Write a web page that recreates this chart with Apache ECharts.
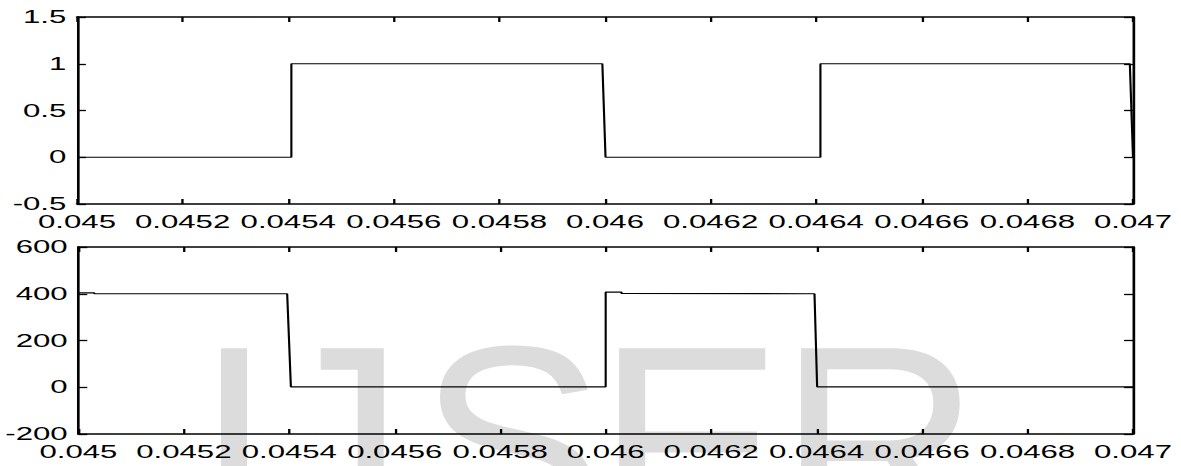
<!DOCTYPE html>
<html>
<head>
<meta charset="utf-8">
<script src="https://cdn.jsdelivr.net/npm/echarts@6/dist/echarts.min.js"></script>
<style>
  html, body { margin: 0; padding: 0; background: #fff; width: 1181px; height: 466px; overflow: hidden; }
  #wm { position: absolute; left: 0; top: 0; width: 1181px; height: 466px; overflow: hidden; z-index: 0; }
  #wm span { position: absolute; font-family: "Liberation Sans", Arial, sans-serif; color: #dcdcdc; white-space: pre; }
  #chart { position: absolute; left: 0; top: 0; height: 466px; transform-origin: 0 0; z-index: 1; }
</style>
</head>
<body>
<div id="wm"></div>
<div id="chart"></div>
<script>
// Gate signal (upper plot)
const gateTime = [0.045, 0.045406, 0.045406, 0.045995, 0.046001, 0.046408, 0.046408, 0.046994, 0.047];
const gateValue = [0, 0, 1, 1, 0, 0, 1, 1, 0];

// Switch voltage (lower plot)
const voltTime = [0.045, 0.04503, 0.04503, 0.045396, 0.045403, 0.046, 0.046, 0.04603, 0.04603, 0.046396, 0.046401, 0.047];
const voltValue = [404, 404, 400, 400, 2, 2, 407, 407, 401, 400, 2, 2];

// Axis ticks
const timeTicks = ['0.045', '0.0452', '0.0454', '0.0456', '0.0458', '0.046', '0.0462', '0.0464', '0.0466', '0.0468', '0.047'];
const gateTicks = ['-0.5', '0', '0.5', '1', '1.5'];
const voltTicks = ['-200', '0', '200', '400', '600'];

// Watermark letters: left edge of each glyph (J by its stem's right edge)
const wmLetters = ['I', 'J', 'S', 'E', 'R'];
const wmEdge = [217, 387, 427, 618, 800];
const wmAnchorRight = [false, true, false, false, false];
const wmSize = 280;
const wmCapTop = 344;

(function drawWatermark() {
  const wm = document.getElementById('wm');
  const ctx = document.createElement('canvas').getContext('2d');
  ctx.font = wmSize + 'px "Liberation Sans", Arial, sans-serif';
  wmLetters.forEach((ch, i) => {
    const m = ctx.measureText(ch);
    const x = wmAnchorRight[i] ? wmEdge[i] - m.actualBoundingBoxRight : wmEdge[i] + m.actualBoundingBoxLeft;
    const asc = m.fontBoundingBoxAscent, desc = m.fontBoundingBoxDescent;
    const lh = wmSize;
    const baselineOffset = (lh - (asc + desc)) / 2 + asc;
    const capTop = baselineOffset - m.actualBoundingBoxAscent;
    const sp = document.createElement('span');
    sp.textContent = ch;
    sp.style.fontSize = wmSize + 'px';
    sp.style.lineHeight = lh + 'px';
    sp.style.left = x + 'px';
    sp.style.top = (wmCapTop - capTop) + 'px';
    wm.appendChild(sp);
  });
})();

// The figure is drawn narrow and stretched horizontally
const SX = 1.78;
const W = 1181 / SX;
const el = document.getElementById('chart');
el.style.width = W + 'px';
el.style.transform = 'scaleX(' + SX + ')';

const plotLeft = 77 / SX;
const plotWidth = 1056 / SX;
const font = '"Liberation Sans", Arial, Helvetica, sans-serif';

const pair = (xs, ys) => xs.map((x, i) => [x, ys[i]]);

function xAxes(gridIndex) {
  const base = {
    type: 'value', gridIndex, min: 0.045, max: 0.047, interval: 0.0002,
    axisLine: { show: true, onZero: false, lineStyle: { color: '#000', width: 1.5 } },
    axisTick: { show: true, inside: true, length: 5, lineStyle: { color: '#000', width: 1.3 } },
    splitLine: { show: false }
  };
  return [
    Object.assign({}, base, {
      position: 'bottom',
      axisLabel: {
        show: true, color: '#000', fontSize: 17.5, fontFamily: font, margin: 9,
        showMinLabel: true, showMaxLabel: true, hideOverlap: false,
        formatter: v => timeTicks[Math.round((v - 0.045) / 0.0002)]
      }
    }),
    Object.assign({}, base, { position: 'top', axisLabel: { show: false } })
  ];
}

function yAxes(gridIndex, min, max, interval, ticks) {
  const base = {
    type: 'value', gridIndex, min, max, interval,
    axisLine: { show: true, onZero: false, lineStyle: { color: '#000', width: 1.5 } },
    axisTick: { show: true, inside: true, length: 5, lineStyle: { color: '#000', width: 1.3 } },
    splitLine: { show: false }
  };
  return [
    Object.assign({}, base, {
      position: 'left',
      axisLabel: {
        show: true, color: '#000', fontSize: 17.5, fontFamily: font, margin: 6,
        showMinLabel: true, showMaxLabel: true,
        formatter: v => ticks[Math.round((v - min) / interval)]
      }
    }),
    Object.assign({}, base, { position: 'right', axisLabel: { show: false } })
  ];
}

const chart = echarts.init(el, null, { renderer: 'svg', width: W, height: 466 });
chart.setOption({
  animation: false,
  backgroundColor: 'transparent',
  grid: [
    { left: plotLeft, width: plotWidth, top: 17, height: 187 },
    { left: plotLeft, width: plotWidth, top: 247, height: 187 }
  ],
  xAxis: [...xAxes(0), ...xAxes(1)],
  yAxis: [...yAxes(0, -0.5, 1.5, 0.5, gateTicks), ...yAxes(1, -200, 600, 200, voltTicks)],
  series: [
    {
      type: 'line', xAxisIndex: 0, yAxisIndex: 0, showSymbol: false, symbol: 'none',
      lineStyle: { color: '#000', width: 1.2 },
      data: pair(gateTime, gateValue)
    },
    {
      type: 'line', xAxisIndex: 2, yAxisIndex: 2, showSymbol: false, symbol: 'none',
      lineStyle: { color: '#000', width: 1.2 },
      data: pair(voltTime, voltValue)
    }
  ]
});
</script>
</body>
</html>
